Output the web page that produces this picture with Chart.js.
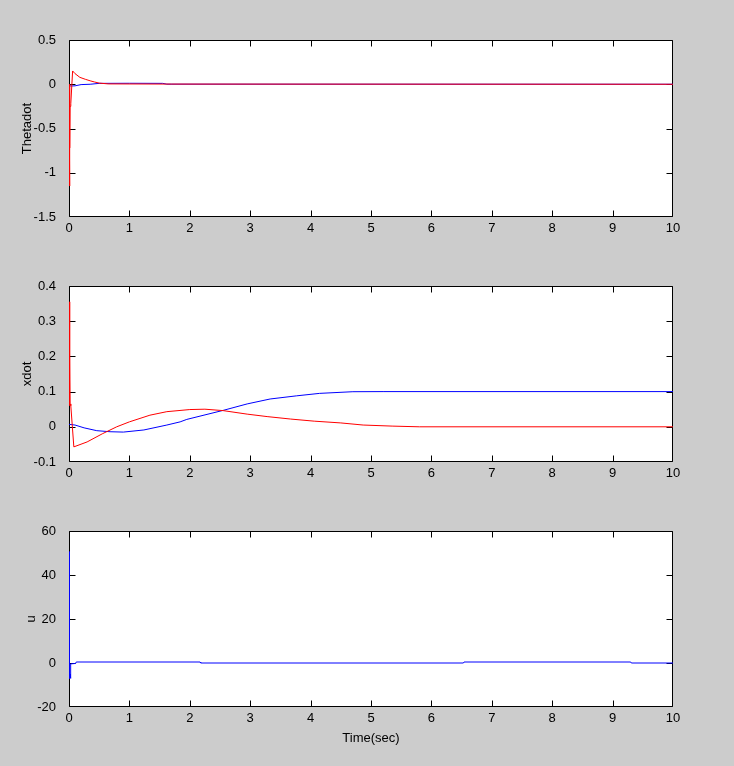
<!DOCTYPE html>
<html>
<head>
<meta charset="utf-8">
<script src="https://cdn.jsdelivr.net/npm/chart.js@4"></script>
<style>
  body { margin: 0; background: #cccccc; }
  #wrap { position: relative; width: 734px; height: 766px; }
  canvas { position: absolute; left: 0; }
</style>
</head>
<body>
<div id="wrap">
  <canvas id="c1" width="734" height="250" style="top:0px"></canvas>
  <canvas id="c2" width="734" height="246" style="top:250px"></canvas>
  <canvas id="c3" width="734" height="270" style="top:496px"></canvas>
</div>
<script>
// time axis
const timeTicks = [0, 1, 2, 3, 4, 5, 6, 7, 8, 9, 10];

// Thetadot
const thetaTicks = [-1.5, -1, -0.5, 0, 0.5];
const thetaRedT = [0, 0.008, 0.009, 0.011, 0.013, 0.015, 0.017, 0.03, 0.06, 0.1, 0.18, 0.27, 0.35, 0.42, 0.5, 0.65, 1.7, 10];
const thetaRed = [0, -1.15, -0.2, -0.75, -0.22, -0.72, -0.25, -0.22, 0.15, 0.12, 0.078, 0.056, 0.039, 0.026, 0.013, 0.004, 0.002, 0];
const thetaBlueT = [0, 0.02, 0.1, 0.2, 0.35, 0.5, 1.0, 1.55, 1.62, 10];
const thetaBlue = [0, -0.02, -0.018, -0.004, 0, 0.01, 0.011, 0.01, 0.001, 0];

// xdot
const xdotTicks = [-0.1, 0, 0.1, 0.2, 0.3, 0.4];
const xdotRedT = [0, 0.008, 0.009, 0.011, 0.013, 0.015, 0.017, 0.03, 0.08, 0.3, 0.55, 0.79, 1.0, 1.34, 1.62, 2.0, 2.25, 2.55, 2.95, 3.28, 3.67, 4.06, 4.5, 4.87, 5.35, 5.8, 10];
const xdotRed = [0.355, 0.355, 0.06, 0.228, 0.07, 0.2, 0.065, 0.06, -0.057, -0.043, -0.02, 0, 0.014, 0.033, 0.043, 0.049, 0.05, 0.046, 0.036, 0.029, 0.022, 0.016, 0.011, 0.005, 0.002, 0, 0];
const xdotBlueT = [0, 0.1, 0.25, 0.46, 0.68, 0.9, 1.24, 1.62, 1.84, 1.95, 2.56, 2.95, 3.33, 3.77, 4.15, 4.7, 5.2, 10];
const xdotBlue = [0.007, 0.005, -0.003, -0.011, -0.014, -0.015, -0.009, 0.005, 0.014, 0.021, 0.047, 0.065, 0.079, 0.088, 0.095, 0.0997, 0.1, 0.1];

// u
const uTicks = [-20, 0, 20, 40, 60];
const uT = [0, 0.008, 0.009, 0.02, 0.025, 0.03, 0.11, 0.12, 2.17, 2.18, 6.53, 6.54, 9.3, 9.31, 10];
const u = [50.6, 50.6, -7, -5, -7, -0.4, -0.2, 0.45, 0.45, 0, 0, 0.45, 0.45, 0, 0];

const FONT = { family: 'Liberation Sans, Arial, sans-serif', size: 13 };

const pts = (ts, vs) => ts.map((t, i) => ({ x: t, y: vs[i] }));
const fmt = (v) => String(+Number(v).toFixed(6));

// white plot area + matlab style box with inward ticks, under the data
const boxTicks = {
  id: 'boxTicks',
  beforeDatasetsDraw(chart) {
    const { ctx, chartArea: a, scales: { x, y } } = chart;
    const L = a.left + 0.5, R = a.right - 0.5, T = a.top + 0.5, B = a.bottom - 0.5;
    const clamp = (v, lo, hi) => Math.min(hi, Math.max(lo, v));
    ctx.save();
    ctx.fillStyle = '#ffffff';
    ctx.fillRect(a.left, a.top, a.right - a.left, a.bottom - a.top);
    ctx.strokeStyle = '#000000';
    ctx.lineWidth = 1;
    ctx.beginPath();
    x.ticks.forEach((t) => {
      const px = clamp(Math.round(x.getPixelForValue(t.value)) + 0.5, L, R);
      ctx.moveTo(px, T); ctx.lineTo(px, T + 6);
      ctx.moveTo(px, B); ctx.lineTo(px, B - 6);
    });
    y.ticks.forEach((t) => {
      const py = clamp(Math.round(y.getPixelForValue(t.value)) + 0.5, T, B);
      ctx.moveTo(L, py); ctx.lineTo(L + 6, py);
      ctx.moveTo(R, py); ctx.lineTo(R - 6, py);
    });
    ctx.rect(L, T, R - L, B - T);
    ctx.stroke();
    ctx.restore();
  },
};

function makeChart(id, datasets, yTicks, yLabel, pad, xHeight, xTitle) {
  const yMin = yTicks[0], yMax = yTicks[yTicks.length - 1];
  return new Chart(document.getElementById(id), {
    type: 'line',
    data: { datasets: datasets },
    plugins: [boxTicks],
    options: {
      responsive: false,
      animation: false,
      events: [],
      layout: { padding: { top: pad.top, right: 61, bottom: pad.bottom, left: 0 } },
      elements: { point: { radius: 0 }, line: { borderWidth: 1, tension: 0 } },
      plugins: { legend: { display: false }, tooltip: { enabled: false } },
      scales: {
        x: {
          type: 'linear',
          min: 0,
          max: 10,
          afterBuildTicks: (s) => { s.ticks = timeTicks.map((v) => ({ value: v })); },
          afterFit: (s) => { s.height = xHeight; },
          grid: { display: false },
          border: { display: false },
          ticks: { color: '#000', font: FONT, padding: -4, maxRotation: 0, autoSkip: false, callback: fmt },
          title: { display: !!xTitle, text: xTitle || '', color: '#000', font: FONT, padding: { top: 0, bottom: 16 } },
        },
        y: {
          type: 'linear',
          min: yMin,
          max: yMax,
          afterBuildTicks: (s) => { s.ticks = yTicks.map((v) => ({ value: v })); },
          afterFit: (s) => { s.width = 69; },
          grid: { display: false },
          border: { display: false },
          ticks: { color: '#000', font: FONT, padding: 5, autoSkip: false, callback: fmt },
          title: { display: true, text: yLabel, color: '#000', font: FONT, padding: { top: pad.label, bottom: 0 } },
        },
      },
    },
  });
}

const line = (data, color) => ({ data: data, borderColor: color, backgroundColor: color, fill: false });

makeChart('c1', [
  line(pts(thetaRedT, thetaRed), '#ff0000'),
  line(pts(thetaBlueT, thetaBlue), '#0000ff'),
], thetaTicks, 'Thetadot', { top: 40, bottom: 3, label: 20 }, 30);

makeChart('c2', [
  line(pts(xdotRedT, xdotRed), '#ff0000'),
  line(pts(xdotBlueT, xdotBlue), '#0000ff'),
], xdotTicks, 'xdot', { top: 36, bottom: 4, label: 20 }, 30);

makeChart('c3', [
  line(pts(uT, u), '#0000ff'),
], uTicks, 'u', { top: 35, bottom: 4, label: 24 }, 55, 'Time(sec)');
</script>
</body>
</html>
